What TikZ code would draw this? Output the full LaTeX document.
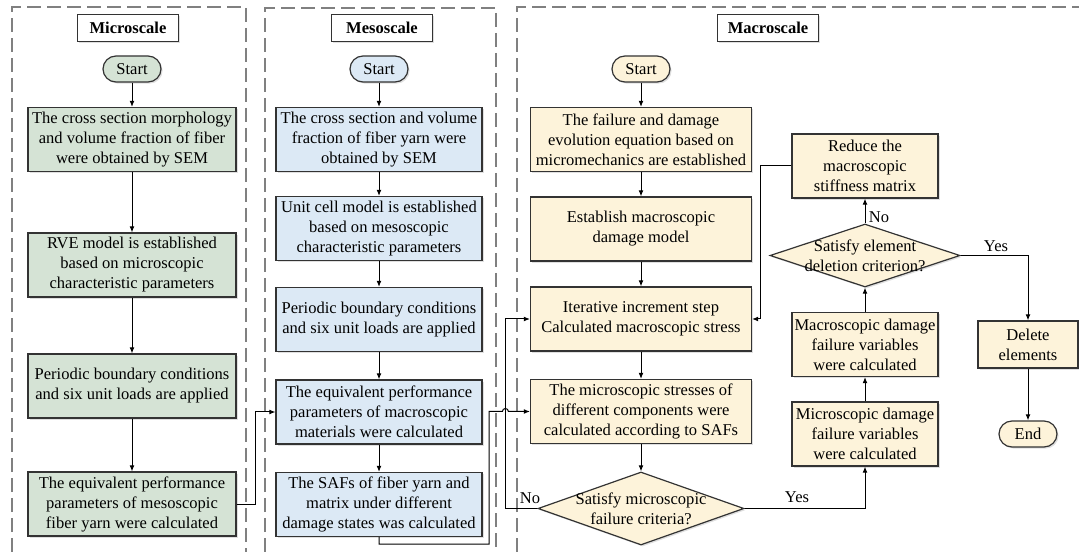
\documentclass[tikz,border=0pt]{standalone}
\usepackage{fontspec}
\setmainfont{Liberation Serif}
\usetikzlibrary{arrows.meta,shapes.geometric,shadows,calc}
\definecolor{micc}{HTML}{D5E3D5}
\definecolor{mesc}{HTML}{DCE9F5}
\definecolor{macc}{HTML}{FDF3DA}
\definecolor{edgec}{HTML}{333333}
\definecolor{dashc}{HTML}{808080}
\begin{document}
\begin{tikzpicture}[x=0.75pt,y=-0.75pt,
  font=\fontsize{12.4}{15}\selectfont,
  panel/.style={draw=dashc, line width=0.8pt, dash pattern=on 10.5pt off 4.5pt},
  shad/.style={drop shadow={opacity=0.25,shadow xshift=1.2pt,shadow yshift=-1.2pt}},
  titlebox/.style={draw=edgec, line width=0.9pt, fill=white, font=\fontsize{12.4}{15}\selectfont\bfseries, minimum width=75.75pt, minimum height=20.25pt, inner sep=0pt, shad},
  startbox/.style={draw=edgec, line width=0.9pt, rounded corners=9.75pt, minimum width=43.5pt, minimum height=19.5pt, inner sep=0pt, shad},
  procbox/.style={draw=edgec, line width=0.9pt, align=center, inner sep=0pt, minimum height=48pt, shad},
  micbox/.style={procbox, fill=micc, minimum width=156pt},
  mesbox/.style={procbox, fill=mesc, minimum width=154.5pt},
  macbox/.style={procbox, fill=macc, minimum width=165.75pt},
  sidebox/.style={procbox, fill=macc, minimum width=109.5pt},
  decision/.style={diamond, draw=edgec, line width=0.9pt, fill=macc, inner sep=0pt, shad},
  arr/.style={draw=black, line width=0.75pt, -{Latex[length=4.5pt,width=3.6pt]}},
  lbl/.style={inner sep=0pt, align=center}
]
\useasboundingbox (0,0) rectangle (1079,552);

% panels
\draw[panel] (12,552) -- (12,7) -- (246,7) -- (246,552);
\draw[panel] (265,552) -- (265,8) -- (496,8) -- (496,552);
\draw[panel] (517,552) -- (517,7) -- (1079,7);

% titles
\node[titlebox] (t1) at (128,28) {Microscale};
\node[titlebox] (t2) at (382,28) {Mesoscale};
\node[titlebox] (t3) at (768,28) {Macroscale};

% starts
\node[startbox, fill=micc] (s1) at (132,69) {Start};
\node[startbox, fill=mesc] (s2) at (379,69) {Start};
\node[startbox, fill=macc] (s3) at (641,69) {Start};

% microscale
\node[micbox] (b1) at (132,139.5) {The cross section morphology\\and volume fraction of fiber\\were obtained by SEM};
\node[micbox] (b2) at (132,265) {RVE model is established\\based on microscopic\\characteristic parameters};
\node[micbox] (b3) at (132,386) {Periodic boundary conditions\\and six unit loads are applied};
\node[micbox] (b4) at (132,504) {The equivalent performance\\parameters of mesoscopic\\fiber yarn were calculated};

% mesoscale
\node[mesbox] (m1) at (379,139.5) {The cross section and volume\\fraction of fiber yarn were\\obtained by SEM};
\node[mesbox] (m2) at (379,228.5) {Unit cell model is established\\based on mesoscopic\\characteristic parameters};
\node[mesbox] (m3) at (379,319.5) {Periodic boundary conditions\\and six unit loads are applied};
\node[mesbox] (m4) at (379,412) {The equivalent performance\\parameters of macroscopic\\materials were calculated};
\node[mesbox] (m5) at (379,504.5) {The SAFs of fiber yarn and\\matrix under different\\damage states was calculated};

% macroscale
\node[macbox] (a1) at (641,139.5) {The failure and damage\\evolution equation based on\\micromechanics are established};
\node[macbox] (a2) at (641,229) {Establish macroscopic\\damage model};
\node[macbox] (a3) at (641,319) {Iterative increment step\\Calculated macroscopic stress};
\node[macbox] (a4) at (641,411.5) {The microscopic stresses of\\different components were\\calculated according to SAFs};
\node[decision, minimum width=154.5pt, minimum height=54.75pt] (d1) at (641,508.5) {};
\node[lbl] (d1t) at (641,508.5) {Satisfy microscopic\\failure criteria?};

\node[sidebox] (r1) at (865,166) {Reduce the\\macroscopic\\stiffness matrix};
\node[decision, minimum width=142.5pt, minimum height=47.25pt] (d2) at (865,255.5) {};
\node[lbl] (d2t) at (865,256) {Satisfy element\\deletion criterion?};
\node[sidebox] (mac1) at (865,344.5) {Macroscopic damage\\failure variables\\were calculated};
\node[sidebox] (mic1) at (865,434) {Microscopic damage\\failure variables\\were calculated};
\node[procbox, fill=macc, minimum width=75pt, minimum height=35.25pt] (del) at (1028,344.5) {Delete\\elements};
\node[startbox, fill=macc] (endn) at (1028,434) {End};

% labels
\node[lbl] (no1) at (530,498) {No};
\node[lbl] (yes1) at (797,497) {Yes};
\node[lbl] (no2) at (879,217) {No};
\node[lbl] (yes2) at (996,246) {Yes};

% connectors micro
\draw[arr] (s1) -- (b1);
\draw[arr] (b1) -- (b2);
\draw[arr] (b2) -- (b3);
\draw[arr] (b3) -- (b4);
\draw[arr] (b4.east) -- ++(19,0) |- (m4.west);

% meso
\draw[arr] (s2) -- (m1);
\draw[arr] (m1) -- (m2);
\draw[arr] (m2) -- (m3);
\draw[arr] (m3) -- (m4);
\draw[arr] (m4) -- (m5);

% macro
\draw[arr] (s3) -- (a1);
\draw[arr] (a1) -- (a2);
\draw[arr] (a2) -- (a3);
\draw[arr] (a3) -- (a4);
\draw[arr] (a4) -- (d1);
\draw[arr] (d1.west) -- ++(-32,0) coordinate (nl) |- (a3.west);
\draw[arr] (m5.south) -- ++(0,7) -- ++(110,0) |- ($(nl |- a4.west)+(-3,0)$)
  arc[start angle=180, end angle=0, radius=2.25pt] -- (a4.west);
\draw[arr] (d1.east) -| (mic1.south);
\draw[arr] (mic1) -- (mac1);
\draw[arr] (mac1) -- (d2);
\draw[arr] (d2) -- (r1);
\draw[arr] (r1.west) -- ++(-31,0) |- (a3.east);
\draw[arr] (d2.east) -| (del.north);
\draw[arr] (del) -- (endn);
\end{tikzpicture}
\end{document}
